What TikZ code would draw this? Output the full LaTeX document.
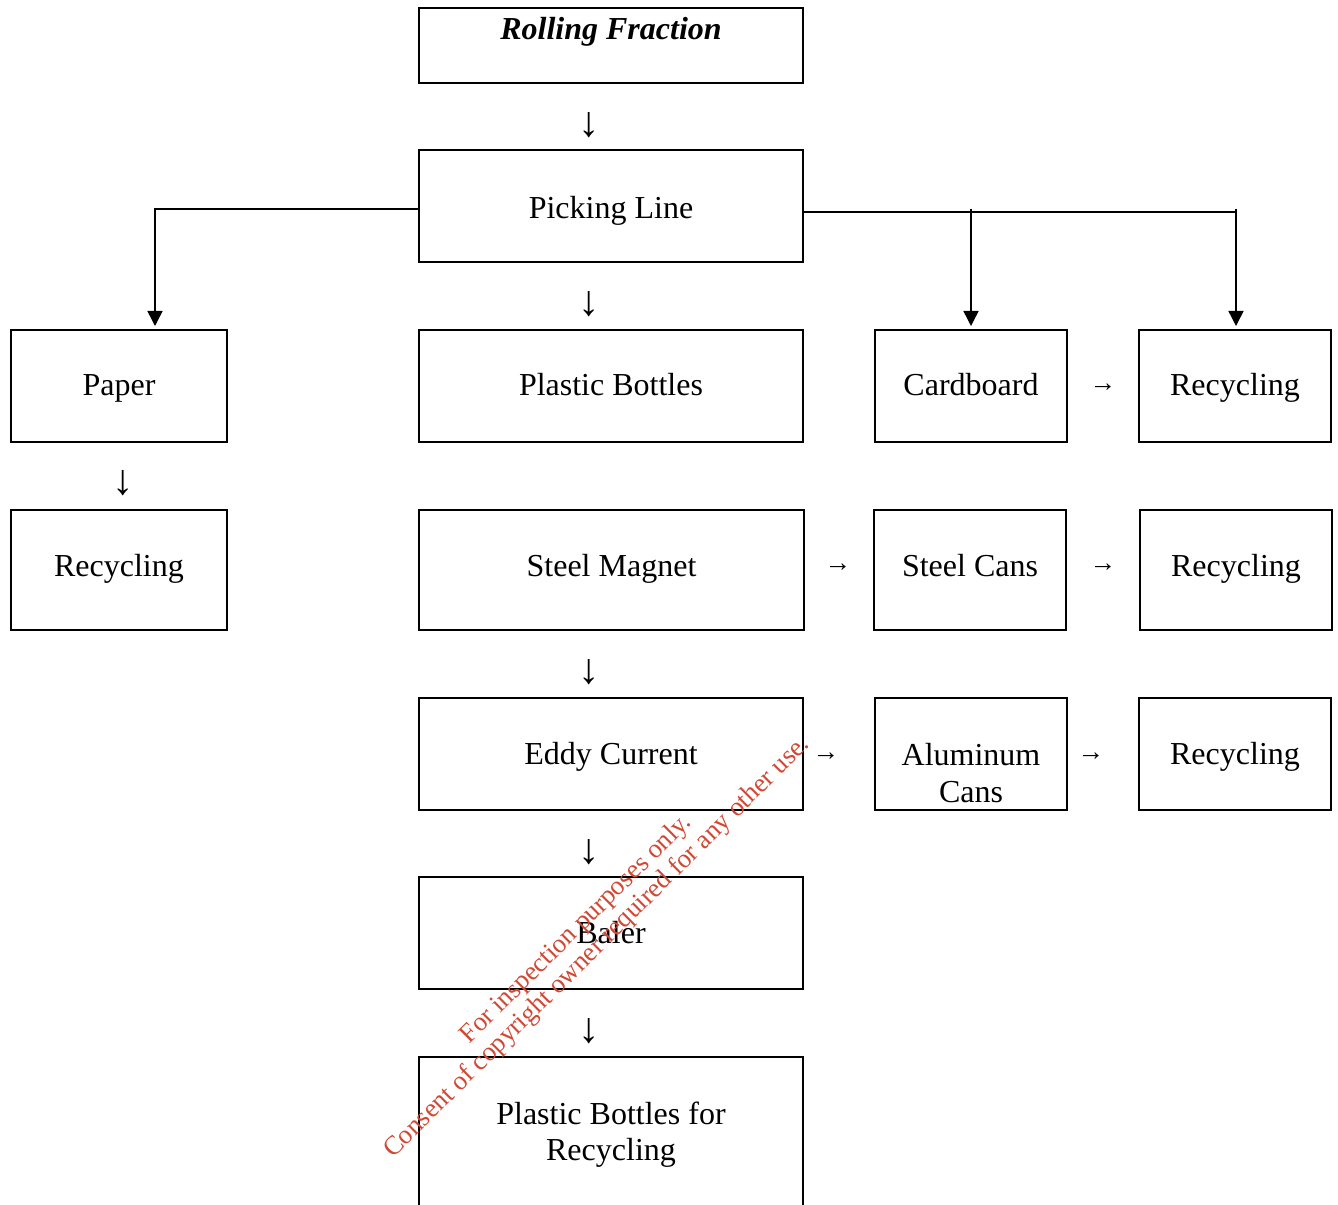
\documentclass[tikz,border=0pt]{standalone}
\usepackage{fontspec}
\setmainfont{Liberation Serif}
\usetikzlibrary{arrows.meta}
\definecolor{wmred}{RGB}{209,72,52}
\begin{document}
\begin{tikzpicture}[x=0.75pt,y=-0.75pt,
  bx/.style 2 args={draw,line width=1.5pt,inner sep=0pt,minimum width=#1*0.75pt,minimum height=#2*0.75pt,
    font=\fontsize{24pt}{27pt}\selectfont,text height=19pt,text depth=4pt},
  tall/.style={text height=16pt,text depth=7pt},
  lower/.style={text height=22pt,text depth=3pt},
  lbl/.style={inner sep=0pt,font=\fontsize{24pt}{27pt}\selectfont},
  dglyph/.style={inner sep=0pt,font=\fontsize{32pt}{34pt}\selectfont},
  rglyph/.style={inner sep=0pt,font=\fontsize{20pt}{24pt}\selectfont},
  conn/.style={line width=1.1pt},
  arr/.style={conn,-{Triangle[width=11.25pt,length=11.25pt]}},
  wm/.style={inner sep=0pt,text=wmred,rotate=44.7,anchor=base,font=\fontsize{20pt}{22pt}\selectfont}]
\useasboundingbox (0,0) rectangle (1338,1205);
\fill[white] (0,0) rectangle (1338,1205);
\clip (0,0) rectangle (1338,1205);

% boxes
\node[bx={384}{75}] (rf) at (611,45.5) {};
\node[lbl,font=\fontsize{24pt}{27pt}\selectfont\bfseries\itshape] (rft) at (611,32) {Rolling Fraction};
\node[bx={384}{112},lower] (pick) at (611,206) {Picking Line};
\node[bx={216}{112}] (paper) at (119,386) {Paper};
\node[bx={384}{112}] (plast) at (611,386) {Plastic Bottles};
\node[bx={192}{112}] (card) at (971,386) {Cardboard};
\node[bx={192}{112}] (rec1) at (1235,386) {Recycling};
\node[bx={216}{120},tall] (rec2) at (119,570) {Recycling};
\node[bx={385}{120},tall] (steel) at (611.5,570) {Steel Magnet};
\node[bx={192}{120},tall] (scans) at (970,570) {Steel Cans};
\node[bx={192}{120},tall] (rec3) at (1236,570) {Recycling};
\node[bx={384}{112}] (eddy) at (611,754) {Eddy Current};
\node[bx={192}{112}] (alum) at (971,754) {};
\node[lbl,anchor=base] (alumA) at (971,765) {Aluminum};
\node[lbl,anchor=base] (alumB) at (971,802) {Cans};
\node[bx={384}{112}] (baler) at (611,933) {Baler};
\node[bx={384}{170}] (final) at (611,1142) {};
\node[lbl,anchor=base] (finA) at (611,1124) {Plastic Bottles for};
\node[lbl,anchor=base] (finB) at (611,1160) {Recycling};
\node[bx={192}{112}] (rec4) at (1235,754) {Recycling};

% glyph arrows
\node[dglyph] (d1) at (589,125) {↓};
\node[dglyph] (d2) at (589,304) {↓};
\node[dglyph] (d3) at (123,483) {↓};
\node[dglyph] (d4) at (589,672) {↓};
\node[dglyph] (d5) at (589,852) {↓};
\node[dglyph] (d6) at (589,1031) {↓};
\node[rglyph] (r1) at (1103,388) {→};
\node[rglyph] (r2) at (838,568) {→};
\node[rglyph] (r3) at (1103,568) {→};
\node[rglyph] (r4) at (826,757) {→};
\node[rglyph] (r5) at (1091,757) {→};

% connectors
\coordinate (ls) at ([yshift=-2.25pt]pick.west);
\coordinate (rs) at ([yshift=-4.5pt]pick.east);
\draw[arr] (ls) -| ([xshift=27pt,yshift=2.25pt]paper.north);
\draw[conn] (rs) -- (rec1.north |- rs);
\draw[arr] ([yshift=2.25pt]card.north |- rs) -- ([yshift=2.25pt]card.north);
\draw[arr] ([xshift=0.75pt,yshift=2.25pt]rec1.north |- rs) -- ([xshift=0.75pt,yshift=2.25pt]rec1.north);

% watermark
\node[wm] (wm1) at (581,934) {For inspection purposes only.};
\node[wm] (wm2) at (602,952) {Consent of copyright owner required for any other use.};
\end{tikzpicture}
\end{document}
